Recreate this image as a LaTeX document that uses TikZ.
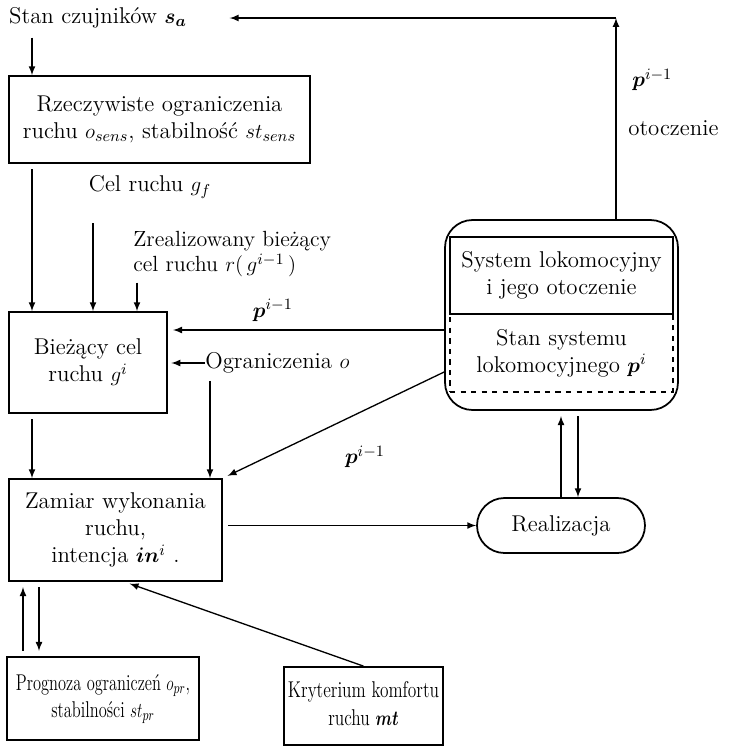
\documentclass[tikz,border=0pt]{standalone}
\usepackage{fontspec}
\usepackage{amsmath, amssymb}
\usepackage{bm}
\usepackage{graphicx}
\usetikzlibrary{arrows}

\tikzset{
    box/.style={draw, line width=1pt, align=center, inner sep=0pt},
    arr/.style={->, >=latex, line width=0.75pt},
    lbl/.style={inner sep=0pt, align=left}
}

\begin{document}
\begin{tikzpicture}[x=0.02cm, y=-0.02cm, font=\fontsize{13}{15.5}\selectfont]
    % \draw[line width=0.1mm, color=black] (0,0) grid[step=50] (729,748);
    \useasboundingbox (0,0) rectangle (729,748);

    % columns of the vertical connectors
    \coordinate (xa) at (32,0);
    \coordinate (xb) at (93,0);
    \coordinate (xc) at (137,0);
    \coordinate (xd) at (210,0);
    \coordinate (xe) at (561,0);
    \coordinate (xf) at (578,0);
    \coordinate (xg) at (616,0);
    \coordinate (xh) at (23,0);
    \coordinate (xi) at (39,0);
    \coordinate (ya) at (0,330);
    \coordinate (yb) at (0,372);

    % blocks
    \node[lbl] (stan) at (98,18) {Stan czujników $\bm{s_a}$};
    \node[box, minimum width=6.02cm, minimum height=1.74cm] (rzecz) at (159.5,119.5)
        {Rzeczywiste ograniczenia\\ ruchu $o_{sens}$, stabilność $st_{sens}$};
    \node[lbl] (cel) at (150,187) {Cel ruchu $g_f$};
    \node[lbl, anchor=west, font=\fontsize{12.5}{14.5}\selectfont] (zreal) at (133,254)
        {Zrealizowany bieżący\\ cel ruchu $r(\,g^{i-1}\,)$};
    \node[box, minimum width=3.16cm, minimum height=2.02cm] (biez) at (88,362.5)
        {Bieżący cel\\ ruchu $g^i$};
    \node[lbl, anchor=west] (ogr) at (205,363) {Ograniczenia $o$};
    \node[box, minimum width=4.26cm, minimum height=2.04cm] (zamiar) at (115.5,530)
        {Zamiar wykonania\\ ruchu,\\ intencja $\bm{in}^i$ .};
    \node[box, minimum width=3.84cm, minimum height=1.66cm] (prog) at (103,698.5)
        {\scalebox{0.72}[1]{\fontsize{13}{15.5}\selectfont\begin{tabular}{@{}c@{}}Prognoza ograniczeń $o_{pr}$,\\ stabilności $st_{pr}$\end{tabular}}};
    \node[box, minimum width=3.18cm, minimum height=1.56cm] (kryt) at (363.5,706)
        {\scalebox{0.76}[1]{\fontsize{13}{15.5}\selectfont\begin{tabular}{@{}c@{}}Kryterium komfortu\\ ruchu $\bm{mt}$\end{tabular}}};
    \node[box, rounded corners=0.55cm, minimum width=3.36cm, minimum height=1.1cm] (real) at (561,525.5)
        {Realizacja};

    % system lokomocyjny
    \node[box, rounded corners=0.55cm, minimum width=4.66cm, minimum height=3.8cm] (sys) at (561.5,315) {};
    \node[box, dashed, line width=0.9pt, minimum width=4.46cm, minimum height=1.56cm] (sysB) at (561.5,353)
        {Stan systemu\\ lokomocyjnego $\bm{p}^i$};
    \node[box, fill=white, minimum width=4.46cm, minimum height=1.54cm] (sysA) at (561.5,275.5)
        {System lokomocyjny\\ i jego otoczenie};

    % connectors
    \draw[arr, shorten <=5pt] (stan.south -| xa) -- (rzecz.north -| xa);
    \draw[arr, shorten <=3pt] (rzecz.south -| xa) -- (biez.north -| xa);
    \draw[arr, shorten <=14pt] (cel.south -| xb) -- (biez.north -| xb);
    \draw[arr, shorten <=3pt] (zreal.south -| xc) -- (biez.north -| xc);
    \draw[arr, shorten >=3pt] (sys.west |- ya) -- (biez.east |- ya)
        node[pos=0.62, above=1pt] {$\bm{p}^{i-1}$};
    \draw[arr, shorten >=2pt] (ogr.west) -- (biez.east |- ogr.west);
    \draw[arr, shorten <=4pt] (ogr.south -| xd) -- (zamiar.north -| xd);
    \draw[arr, shorten <=3pt] (biez.south -| xa) -- (zamiar.north -| xa);
    \draw[arr, shorten >=3pt] (sys.west |- yb) -- (zamiar.north east);
    \node[lbl] at (365,457) {$\bm{p}^{i-1}$};
    \draw[arr, shorten <=3pt] (zamiar.east |- real.west) -- (real.west);
    \draw[arr, shorten >=3pt] (real.north -| xe) -- (sys.south -| xe);
    \draw[arr, shorten <=3pt] (sys.south -| xf) -- (real.north -| xf);
    \coordinate (corner) at (xg |- stan);
    \draw[arr] (sys.north -| xg) -- (corner);
    \draw[arr, shorten >=0.85cm] (corner) -- (stan.east);
    \node[lbl, anchor=west] at (632,80) {$\bm{p}^{i-1}$};
    \node[lbl, anchor=west] at (628,128) {otoczenie};
    \draw[arr, shorten <=3pt, shorten >=3pt] (prog.north -| xh) -- (zamiar.south -| xh);
    \draw[arr, shorten <=3pt, shorten >=3pt] (zamiar.south -| xi) -- (prog.north -| xi);
    \draw[arr, shorten >=3pt] (kryt.north) -- (zamiar.-80);

\end{tikzpicture}
\end{document}
